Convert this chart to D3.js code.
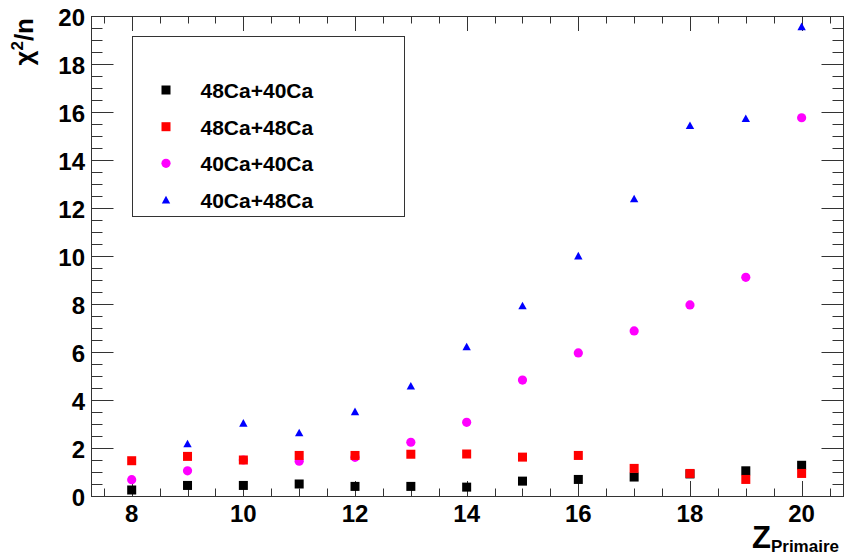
<!DOCTYPE html>
<html>
<head>
<meta charset="utf-8">
<script src="https://cdn.jsdelivr.net/npm/d3@7"></script>
<style>
  html, body { margin: 0; padding: 0; background: #fff; }
  svg { display: block; font-family: "Liberation Sans", Arial, Helvetica, sans-serif; }
</style>
</head>
<body>
<svg id="chart" width="844" height="558"></svg>
<script>
// ---- data ----
const zValues = [8, 9, 10, 11, 12, 13, 14, 15, 16, 17, 18, 19, 20];
const ca48ca40 = [0.25, 0.44, 0.44, 0.50, 0.40, 0.40, 0.37, 0.62, 0.69, 0.79, 0.92, 1.05, 1.28];
const ca48ca48 = [1.47, 1.65, 1.50, 1.69, 1.69, 1.74, 1.75, 1.62, 1.69, 1.15, 0.94, 0.69, 0.94];
const ca40ca40 = [0.68, 1.05, 1.50, 1.45, 1.61, 2.24, 3.07, 4.83, 5.96, 6.88, 7.96, 9.11, 15.76];
const ca40ca48 = [null, 2.17, 3.03, 2.63, 3.51, 4.58, 6.21, 7.92, 10.0, 12.38, 15.43, 15.72, 19.55];
const seriesNames = ["48Ca+40Ca", "48Ca+48Ca", "40Ca+40Ca", "40Ca+48Ca"];
const xTickLabels = [8, 10, 12, 14, 16, 18, 20];
const yTickLabels = [0, 2, 4, 6, 8, 10, 12, 14, 16, 18, 20];

const series = [
  { name: seriesNames[0], values: ca48ca40, color: "#000000", shape: "square" },
  { name: seriesNames[1], values: ca48ca48, color: "#ff0000", shape: "square" },
  { name: seriesNames[2], values: ca40ca40, color: "#ff00ff", shape: "circle" },
  { name: seriesNames[3], values: ca40ca48, color: "#0000ff", shape: "triangle" }
];
// draw order (later = on top)
const drawOrder = [3, 2, 0, 1];

// ---- layout ----
const svg = d3.select("#chart");
const L = 91.5, R = 843.5, T = 16, B = 496;
const x = d3.scaleLinear().domain([7.28, 20.75]).range([L, R]);
const y = d3.scaleLinear().domain([0, 20]).range([B, T]);
const axisColor = "#333";

// frame
svg.append("rect").attr("x", L).attr("y", T + 0.5).attr("width", R - L).attr("height", B - T)
  .attr("fill", "none").attr("stroke", axisColor).attr("stroke-width", 1);

// x ticks (every 0.5, major every 2)
const xMinor = d3.range(7.5, 20.75, 0.5);
const g = svg.append("g").attr("stroke", axisColor).attr("stroke-width", 1);
xMinor.forEach(v => {
  const major = Math.abs(v % 2) < 1e-9;
  const len = major ? 15 : 7.5;
  const px = Math.round(x(v)) + 0.5;
  g.append("line").attr("x1", px).attr("x2", px).attr("y1", B).attr("y2", B - len);
  g.append("line").attr("x1", px).attr("x2", px).attr("y1", T).attr("y2", T + len);
});
// y ticks
const yMinor = d3.range(0, 20.01, 0.5);
yMinor.forEach(v => {
  const major = Math.abs(v % 2) < 1e-9;
  const len = major ? 22 : 11;
  const py = Math.round(y(v)) + 0.5;
  g.append("line").attr("x1", L).attr("x2", L + len).attr("y1", py).attr("y2", py);
  g.append("line").attr("x1", R).attr("x2", R - len).attr("y1", py).attr("y2", py);
});

// tick labels
svg.append("g").selectAll("text").data(xTickLabels).join("text")
  .attr("x", d => x(d)).attr("y", 521.5)
  .attr("text-anchor", "middle").attr("font-size", 24).attr("font-weight", "bold")
  .attr("fill", "#000").text(d => d);
svg.append("g").selectAll("text").data(yTickLabels).join("text")
  .attr("x", 85).attr("y", d => y(d) + 10)
  .attr("text-anchor", "end").attr("font-size", 24).attr("font-weight", "bold")
  .attr("fill", "#000").text(d => d);

// y title
const yt = svg.append("text")
  .attr("transform", "translate(33,18) rotate(-90)")
  .attr("text-anchor", "end").attr("font-size", 26).attr("font-weight", "bold").attr("fill", "#000");
yt.append("tspan").text("χ");
yt.append("tspan").attr("dy", -10).attr("font-size", 17).text("2");
yt.append("tspan").attr("dy", 10).text("/n");

// x title
const xt = svg.append("text").attr("x", 752).attr("y", 548)
  .attr("font-size", 31).attr("font-weight", "bold").attr("fill", "#000");
xt.append("tspan").text("Z");
xt.append("tspan").attr("dy", 4).attr("font-size", 17).text("Primaire");

// markers
function drawMarker(sel, shape, cx, cy, color) {
  if (shape === "square") {
    sel.append("rect").attr("x", cx - 4.5).attr("y", cy - 4.5).attr("width", 9).attr("height", 9).attr("fill", color);
  } else if (shape === "circle") {
    sel.append("circle").attr("cx", cx).attr("cy", cy).attr("r", 4.6).attr("fill", color);
  } else {
    sel.append("path").attr("d", `M${cx},${cy - 4.2}L${cx + 4.2},${cy + 3.4}L${cx - 4.2},${cy + 3.4}Z`).attr("fill", color);
  }
}
const pts = svg.append("g");
drawOrder.forEach(i => {
  const s = series[i];
  s.values.forEach((v, k) => {
    if (v === null) return;
    drawMarker(pts, s.shape, x(zValues[k]), y(v), s.color);
  });
});

// legend
const lg = svg.append("g");
lg.append("rect").attr("x", 132.5).attr("y", 36.5).attr("width", 272).attr("height", 180)
  .attr("fill", "#fff").attr("stroke", axisColor).attr("stroke-width", 1);
const rows = [90, 126.7, 163.3, 200];
series.forEach((s, i) => {
  drawMarker(lg, s.shape, 166, rows[i], s.color);
  lg.append("text").attr("x", 200.5).attr("y", rows[i] + 8)
    .attr("font-size", 21).attr("font-weight", "bold").attr("fill", "#000").text(s.name);
});
</script>
</body>
</html>
